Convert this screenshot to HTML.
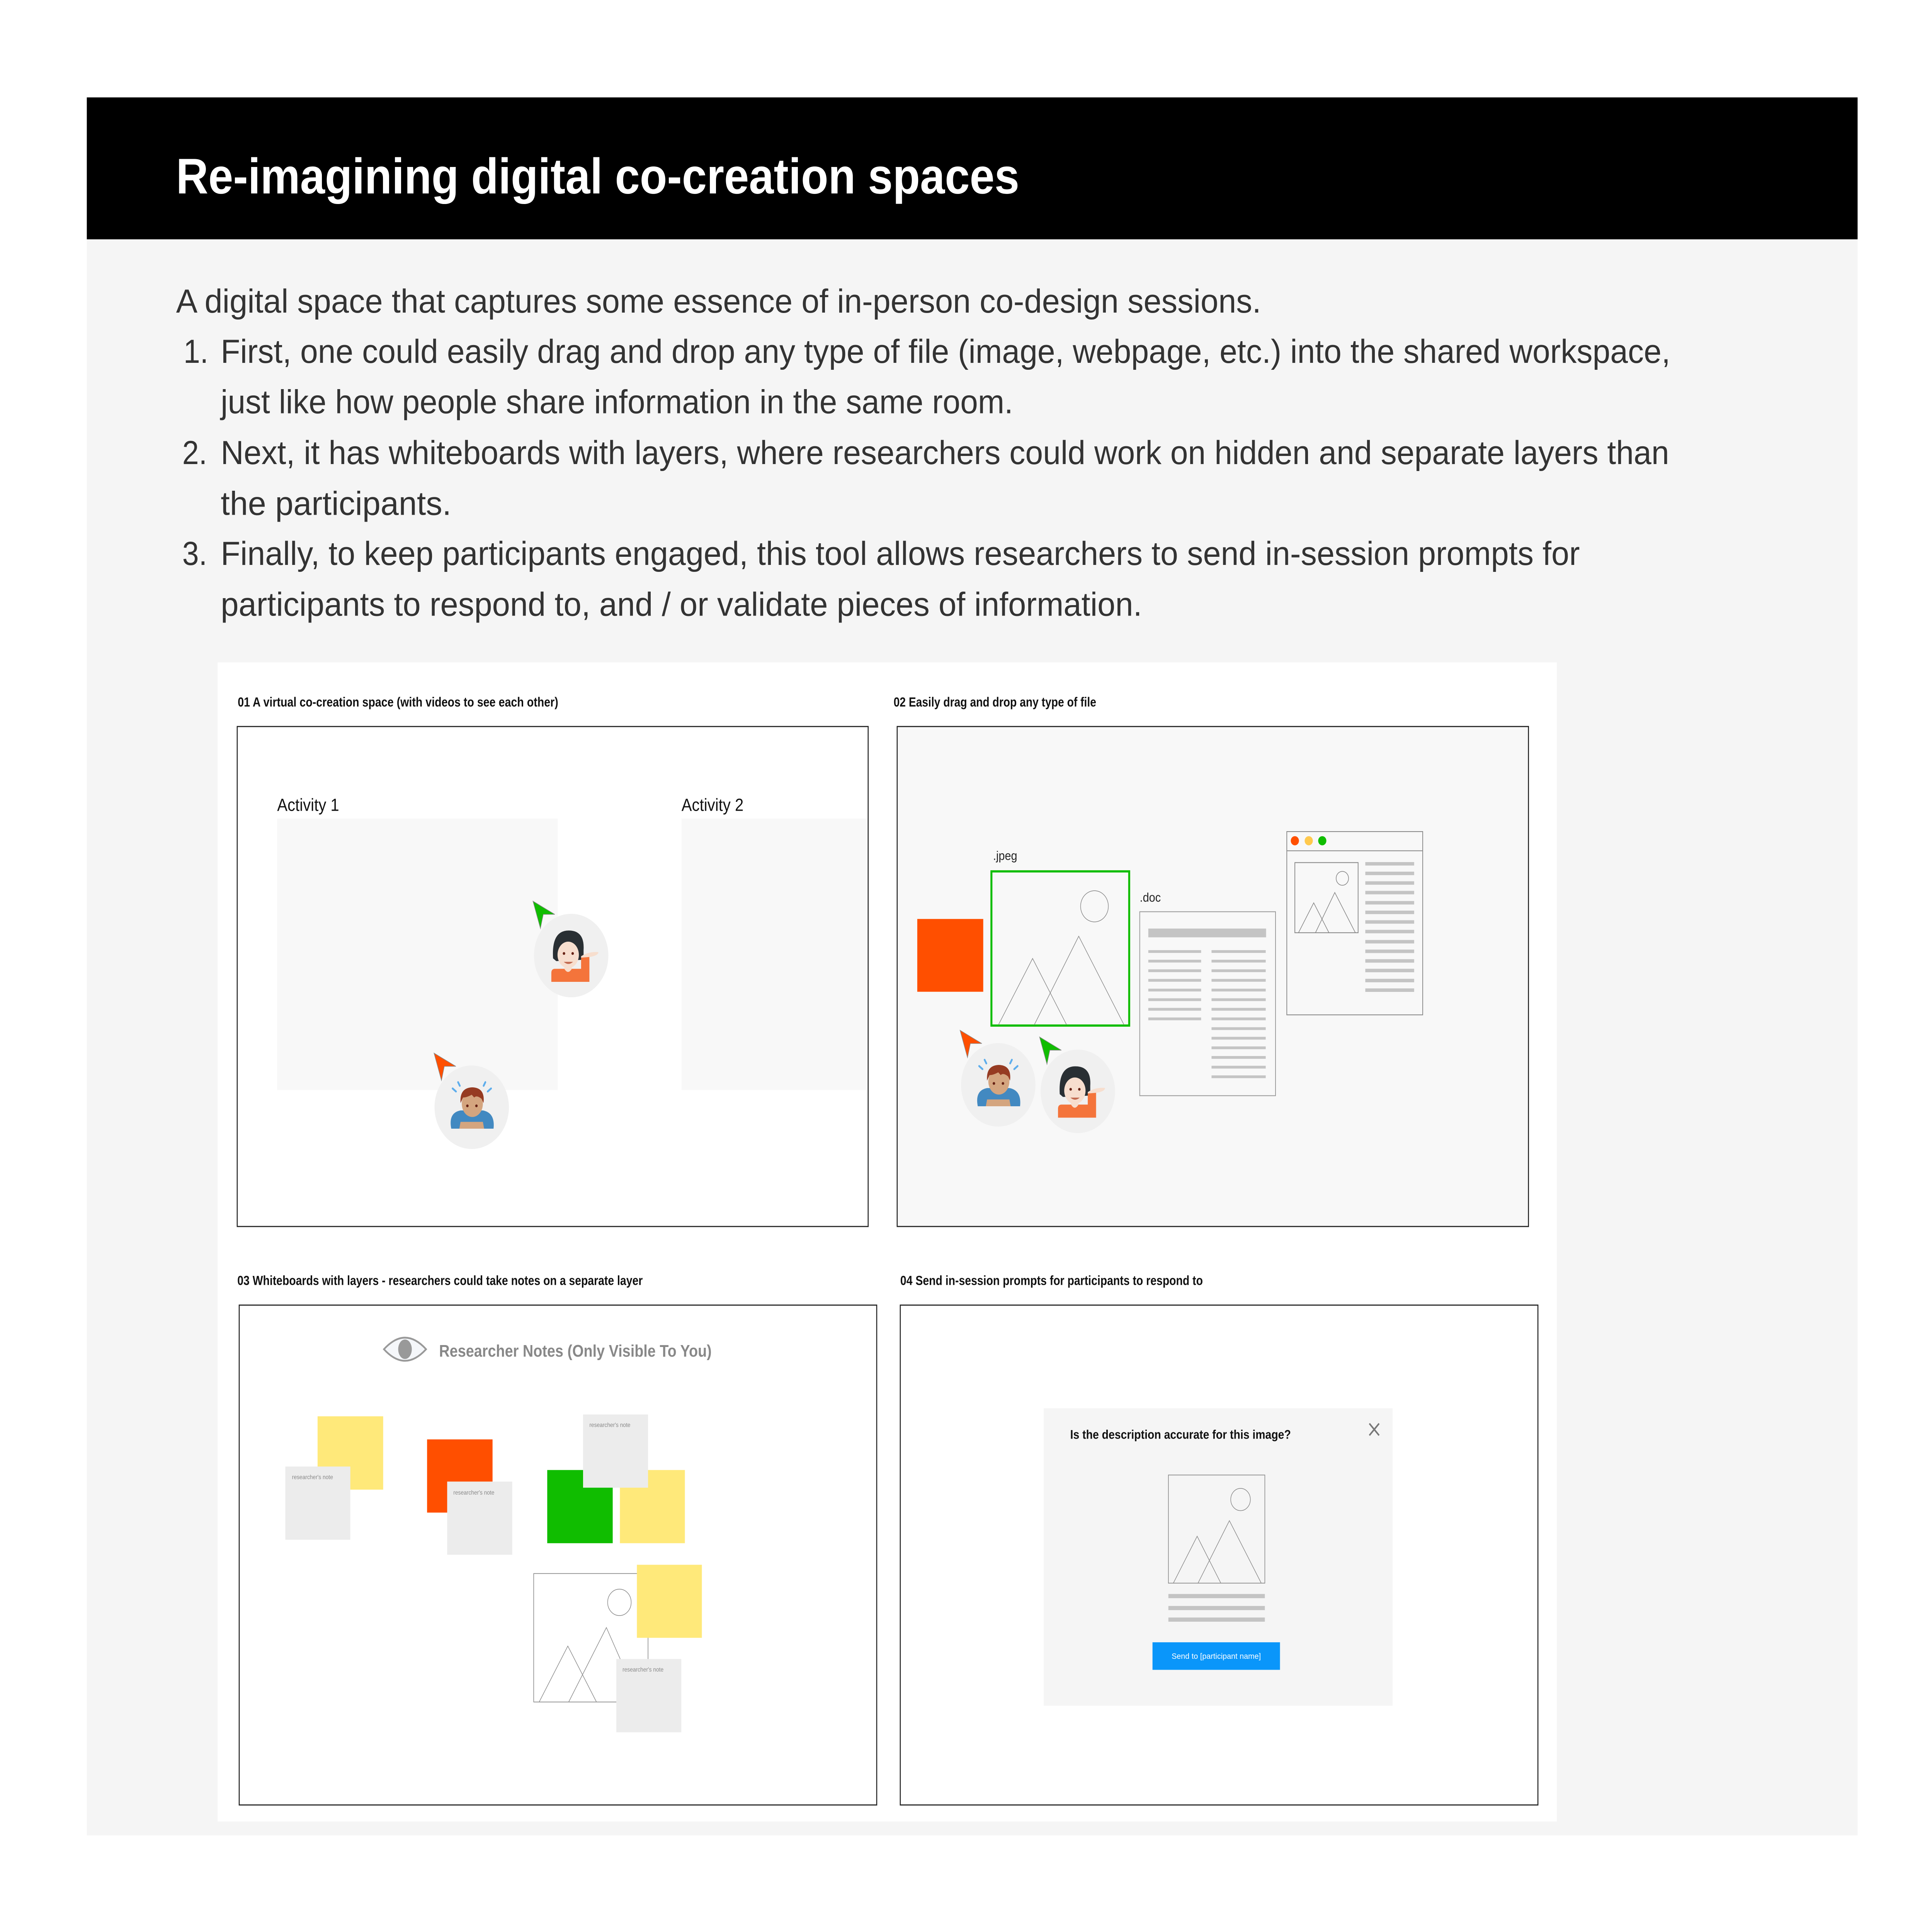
<!DOCTYPE html>
<html><head><meta charset="utf-8"><style>html,body{margin:0;padding:0;background:#fff;width:100%;height:100%;overflow:hidden}svg{display:block;width:100vw;height:100vh}</style></head>
<body>
<svg xmlns="http://www.w3.org/2000/svg" viewBox="0 0 1558 1388.4" preserveAspectRatio="none" font-family="'Liberation Sans', sans-serif">
<defs>
<g id="girl">
  <circle r="30" fill="#f0f0f0"/>
  <path d="M-14.6,2 Q-16,-18 -2,-18 Q11,-18 10,-4 L10,3 L-12,4 Z" fill="#292f33"/>
  <ellipse cx="-2.4" cy="-0.5" rx="8.6" ry="9.5" fill="#f7dece"/>
  <path d="M-10,-9 Q-2,-12 6,-8 L9,-12 Q4,-17 -3,-17 Q-11,-16 -12,-8 Z" fill="#292f33"/>
  <circle cx="-5.8" cy="-1.5" r="1" fill="#662113"/><circle cx="1.2" cy="-1.5" r="1" fill="#662113"/>
  <path d="M-6,4.5 L1.5,4.5 Q-2.2,7.5 -6,4.5 Z" fill="#c1694f"/>
  <rect x="-5.5" y="6" width="6" height="6" rx="3" fill="#f7dece"/>
  <path d="M-16,18.9 L-16,12.5 Q-16,9.5 -13,9.5 L-5.5,9.5 Q-2.5,14 0.5,9.5 L8,9.5 L8,0.9 L14.7,0.9 L14.7,18.9 Z" fill="#f4743b"/>
  <path d="M8,0.5 Q14,-3 21.9,-2.5 Q22,0 15,1 L8,1.5 Z" fill="#f7dece"/>
</g>
<g id="boy">
  <circle r="30" fill="#f0f0f0"/>
  <path d="M-16.5,15.4 Q-19,4 -9,2.3 L9,2.3 Q19,4 17.6,15.4 Z" fill="#4289c1"/>
  <path d="M-10,15.4 L-9,10.5 L9,10.5 L10,15.4 Z" fill="#d4a57f"/>
  <ellipse cx="0.5" cy="-2.5" rx="8.5" ry="9.5" fill="#d4a57f"/>
  <path d="M-9,-3 Q-10,-14 0.5,-14.3 Q11,-14 9.5,-3 L8,-6 Q4,-9 2,-7 L0,-9 Q-4,-7 -7,-7 Z" fill="#963b22"/>
  <circle cx="-3.5" cy="-1" r="1" fill="#662113"/><circle cx="3.8" cy="-1" r="1" fill="#662113"/>
  <g stroke="#5dadec" stroke-width="1.4" stroke-linecap="round">
    <line x1="-15.4" y1="-13.5" x2="-12.7" y2="-11.3"/><line x1="-11" y1="-18" x2="-9.6" y2="-15.4"/>
    <line x1="15.6" y1="-13.5" x2="12.9" y2="-11.3"/><line x1="11" y1="-18" x2="9.6" y2="-15.4"/>
  </g>
</g>
<path id="cur" d="M0,0 L17.6,9.5 L8.3,9.5 L6,19.6 Z" stroke="#888" stroke-width="0.4"/>
</defs>

<rect width="1558" height="1388.4" fill="#fff"/>
<rect x="70" y="70" width="1428" height="102" fill="#000"/>
<rect x="70" y="172" width="1428" height="1147" fill="#f5f5f5"/>
<text x="142" y="139" font-size="36" font-weight="bold" fill="#fff" textLength="680" lengthAdjust="spacingAndGlyphs">Re-imagining digital co-creation spaces</text>

<g font-size="24" fill="#333">
<text x="142" y="224.6" textLength="875" lengthAdjust="spacingAndGlyphs">A digital space that captures some essence of in-person co-design sessions.</text>
<text x="148" y="260.7">1.</text>
<text x="178" y="260.7" textLength="1169" lengthAdjust="spacingAndGlyphs">First, one could easily drag and drop any type of file (image, webpage, etc.) into the shared workspace,</text>
<text x="178" y="297" textLength="639" lengthAdjust="spacingAndGlyphs">just like how people share information in the same room.</text>
<text x="147" y="333.5">2.</text>
<text x="178" y="333.5" textLength="1168" lengthAdjust="spacingAndGlyphs">Next, it has whiteboards with layers, where researchers could work on hidden and separate layers than</text>
<text x="178" y="370" textLength="186" lengthAdjust="spacingAndGlyphs">the participants.</text>
<text x="147" y="406">3.</text>
<text x="178" y="406" textLength="1096" lengthAdjust="spacingAndGlyphs">Finally, to keep participants engaged, this tool allows researchers to send in-session prompts for</text>
<text x="178" y="442.5" textLength="743" lengthAdjust="spacingAndGlyphs">participants to respond to, and / or validate pieces of information.</text>
</g>

<rect x="175.5" y="476" width="1080" height="833" fill="#fff"/>

<g font-size="9.5" font-weight="bold" fill="#111">
<text x="191.7" y="507.8" textLength="258.5" lengthAdjust="spacingAndGlyphs">01 A virtual co-creation space (with videos to see each other)</text>
<text x="720.6" y="507.8" textLength="163.4" lengthAdjust="spacingAndGlyphs">02 Easily drag and drop any type of file</text>
<text x="191.4" y="923.4" textLength="326.9" lengthAdjust="spacingAndGlyphs">03 Whiteboards with layers - researchers could take notes on a separate layer</text>
<text x="726" y="923.4" textLength="244" lengthAdjust="spacingAndGlyphs">04 Send in-session prompts for participants to respond to</text>
</g>

<g transform="translate(0,-4)">
<rect x="191.3" y="526.1" width="508.8" height="359.3" fill="#fff" stroke="#222" stroke-width="0.8"/>
<text x="223.5" y="586.7" font-size="12.5" fill="#111">Activity 1</text>
<text x="549.6" y="586.7" font-size="12.5" fill="#111">Activity 2</text>
<rect x="223.5" y="592.2" width="226.3" height="195.1" fill="#f8f8f8"/>
<rect x="549.6" y="592.2" width="149.8" height="195.1" fill="#f8f8f8"/>
</g>
<use href="#girl" x="460.6" y="686.7"/>
<use href="#cur" x="429.8" y="647.6" fill="#10bd00"/>
<use href="#boy" x="380.4" y="795.7"/>
<use href="#cur" x="350" y="756.8" fill="#ff4f00"/>

<g transform="translate(0,-4)">
<rect x="723.5" y="526.1" width="509.1" height="359.3" fill="#f8f8f8" stroke="#222" stroke-width="0.8"/>
<rect x="739.7" y="664.4" width="53.2" height="52.3" fill="#ff4f00"/>
<text x="800.8" y="622" font-size="9" fill="#222">.jpeg</text>
<rect x="799.5" y="630.2" width="111.1" height="110.8" fill="#f8f8f8" stroke="#10bd00" stroke-width="1.6"/>
<g fill="none" stroke="#888" stroke-width="0.45">
<circle cx="882.6" cy="655.3" r="11.2"/>
<polyline points="805.2,740.4 832.7,692.8 860.1,740.4"/>
<polyline points="834.1,740.4 869.9,676.8 906.4,740.4"/>
</g>
<text x="919.1" y="652" font-size="9" fill="#222">.doc</text>
<rect x="919.1" y="659.2" width="109.5" height="132.2" fill="#f8f8f8" stroke="#999" stroke-width="0.6"/>
<rect x="926" y="671.3" width="95" height="6.3" fill="#c4c4c4"/>
<g fill="#c4c4c4">
<rect x="926" y="686.8" width="42.6" height="2"/><rect x="926" y="693.7" width="42.6" height="2"/><rect x="926" y="700.6" width="42.6" height="2"/><rect x="926" y="707.5" width="42.6" height="2"/><rect x="926" y="714.5" width="42.6" height="2"/><rect x="926" y="721.4" width="42.6" height="2"/><rect x="926" y="728.3" width="42.6" height="2"/><rect x="926" y="735.2" width="42.6" height="2"/>
<rect x="977" y="686.8" width="43.7" height="2"/><rect x="977" y="693.7" width="43.7" height="2"/><rect x="977" y="700.6" width="43.7" height="2"/><rect x="977" y="707.5" width="43.7" height="2"/><rect x="977" y="714.5" width="43.7" height="2"/><rect x="977" y="721.4" width="43.7" height="2"/><rect x="977" y="728.3" width="43.7" height="2"/><rect x="977" y="735.2" width="43.7" height="2"/><rect x="977" y="742.2" width="43.7" height="2"/><rect x="977" y="749.1" width="43.7" height="2"/><rect x="977" y="756" width="43.7" height="2"/><rect x="977" y="762.9" width="43.7" height="2"/><rect x="977" y="769.9" width="43.7" height="2"/><rect x="977" y="776.8" width="43.7" height="2"/>
</g>
<rect x="1037.7" y="601.6" width="109.6" height="131.7" fill="#f8f8f8" stroke="#888" stroke-width="0.6"/>
<line x1="1037.7" y1="615.4" x2="1147.3" y2="615.4" stroke="#888" stroke-width="0.6"/>
<circle cx="1044.2" cy="608.2" r="3.3" fill="#ff4f00"/>
<circle cx="1055.4" cy="608.2" r="3.3" fill="#ffc94d"/>
<circle cx="1066.3" cy="608.2" r="3.3" fill="#10bd00"/>
<rect x="1044.2" y="623.9" width="51" height="50.4" fill="none" stroke="#888" stroke-width="0.6"/>
<g fill="none" stroke="#888" stroke-width="0.5">
<circle cx="1082.5" cy="635.2" r="5"/>
<polyline points="1047.1,674.3 1059.4,652.8 1071.7,674.3"/>
<polyline points="1060.8,674.3 1076.4,645.4 1093,674.3"/>
</g>
<g fill="#c4c4c4">
<rect x="1101" y="623.5" width="39.4" height="2.5"/><rect x="1101" y="630.4" width="39.4" height="2.5"/><rect x="1101" y="637.3" width="39.4" height="2.5"/><rect x="1101" y="644.2" width="39.4" height="2.5"/><rect x="1101" y="651.5" width="39.4" height="2.5"/><rect x="1101" y="658.4" width="39.4" height="2.5"/><rect x="1101" y="665.3" width="39.4" height="2.5"/><rect x="1101" y="672.2" width="39.4" height="2.5"/><rect x="1101" y="679.5" width="39.4" height="2.5"/><rect x="1101" y="686.4" width="39.4" height="2.5"/><rect x="1101" y="693.3" width="39.4" height="2.5"/><rect x="1101" y="700.2" width="39.4" height="2.5"/><rect x="1101" y="707.4" width="39.4" height="2.5"/><rect x="1101" y="714.3" width="39.4" height="2.5"/>
</g>
</g>
<use href="#boy" x="805" y="779.6"/>
<use href="#cur" x="774.2" y="740.4" fill="#ff4f00"/>
<use href="#girl" x="869.2" y="784.3"/>
<use href="#cur" x="838.3" y="745.2" fill="#10bd00"/>

<g transform="translate(0,-5)">
<rect x="192.9" y="942.9" width="514.1" height="359.2" fill="#fff" stroke="#222" stroke-width="0.8"/>
<path d="M309.6,974.6 Q326.6,958 343.6,974.6 Q326.6,991.2 309.6,974.6 Z" fill="#f5f7fa" stroke="#999" stroke-width="1.3"/>
<ellipse cx="326.6" cy="974.6" rx="5.5" ry="7" fill="#999"/>
<text x="354.1" y="979.9" font-size="12" font-weight="bold" fill="#888" textLength="219.8" lengthAdjust="spacingAndGlyphs">Researcher Notes (Only Visible To You)</text>
<rect x="256.1" y="1022.8" width="52.9" height="52.7" fill="#ffe97a"/>
<rect x="230.1" y="1058.9" width="52.4" height="52.6" fill="#ececec"/>
<text x="235.5" y="1068" font-size="4.3" fill="#888">researcher's note</text>
<rect x="344.4" y="1039.4" width="52.8" height="52.6" fill="#ff4f00"/>
<rect x="360.6" y="1069.7" width="52.5" height="52.6" fill="#ececec"/>
<text x="365.6" y="1079" font-size="4.3" fill="#888">researcher's note</text>
<rect x="441.3" y="1061.4" width="52.8" height="52.6" fill="#10bd00"/>
<rect x="499.9" y="1061.4" width="52.4" height="52.6" fill="#ffe97a"/>
<rect x="470.2" y="1021.5" width="52.4" height="52.6" fill="#ececec"/>
<text x="475.3" y="1030.5" font-size="4.3" fill="#888">researcher's note</text>
<rect x="430.4" y="1135.8" width="92.2" height="92.3" fill="#fff" stroke="#888" stroke-width="0.5"/>
<g fill="none" stroke="#888" stroke-width="0.45">
<circle cx="499.5" cy="1156.5" r="9.5"/>
<polyline points="434.8,1228.1 457.9,1187.9 481,1228.1"/>
<polyline points="458.6,1228.1 489,1174.6 515.4,1228.1"/>
</g>
<rect x="513.6" y="1129.5" width="52.4" height="52.5" fill="#ffe97a"/>
<rect x="497" y="1197.2" width="52.4" height="52.7" fill="#ececec"/>
<text x="502" y="1206.3" font-size="4.3" fill="#888">researcher's note</text>
</g>

<g transform="translate(0,-5)">
<rect x="726" y="942.9" width="514.2" height="359.2" fill="#fff" stroke="#222" stroke-width="0.8"/>
<rect x="841.7" y="1017" width="281.3" height="213.8" fill="#f5f5f5"/>
<text x="863" y="1039" font-size="9" font-weight="bold" fill="#111" textLength="178" lengthAdjust="spacingAndGlyphs">Is the description accurate for this image?</text>
<g stroke="#777" stroke-width="1.2"><line x1="1104.3" y1="1028" x2="1112.1" y2="1036.5"/><line x1="1112.1" y1="1028" x2="1104.3" y2="1036.5"/></g>
<rect x="942.2" y="1065" width="77.8" height="77.7" fill="#f5f5f5" stroke="#888" stroke-width="0.5"/>
<g fill="none" stroke="#888" stroke-width="0.45">
<ellipse cx="1000.4" cy="1082.6" rx="7.9" ry="8"/>
<polyline points="946.2,1142.7 965.4,1109 984.5,1142.7"/>
<polyline points="966.1,1142.7 991.4,1097.8 1017.1,1142.7"/>
</g>
<g fill="#c4c4c4">
<rect x="942.2" y="1150.5" width="77.8" height="3"/><rect x="942.2" y="1159.1" width="77.8" height="3"/><rect x="942.2" y="1167.4" width="77.8" height="3"/>
</g>
</g>
<rect x="929.4" y="1180.2" width="102.8" height="19.8" fill="#0a96fa"/>
<text x="980.8" y="1192.1" font-size="5.6" fill="#fff" text-anchor="middle" textLength="72" lengthAdjust="spacingAndGlyphs">Send to [participant name]</text>
</svg>
</body></html>
